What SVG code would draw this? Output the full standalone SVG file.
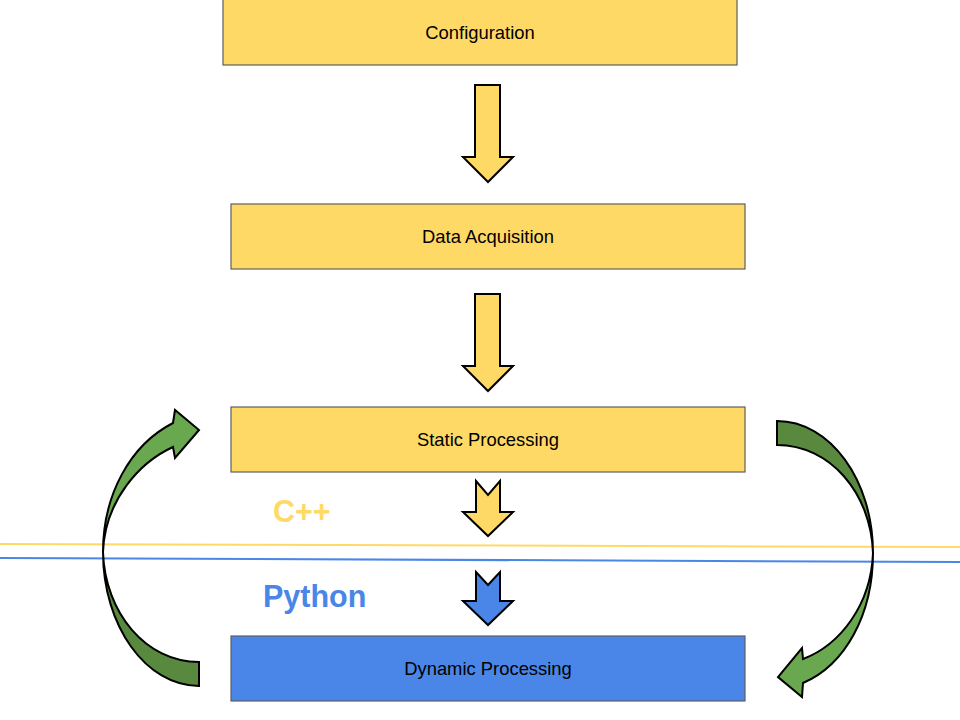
<svg xmlns="http://www.w3.org/2000/svg" width="960" height="720" viewBox="0 0 960 720">
<style>
.box{stroke:#5f5f5f;stroke-width:1.2}
.y{fill:#ffd966}
.b{fill:#4a86e8}
.lbl{font-family:"Liberation Sans",Arial,sans-serif;font-size:18.4px;fill:#000;text-anchor:middle}
.big{font-family:"Liberation Sans",Arial,sans-serif;font-size:30.5px;font-weight:bold}
.arr{stroke:#000;stroke-width:2;stroke-linejoin:miter}
.g1{fill:#6aa84f}
.g2{fill:#58893f}
</style>
<rect width="960" height="720" fill="#fff"/>
<g id="lines">
<line x1="0" y1="544" x2="960" y2="547" stroke="#ffd966" stroke-width="2"/>
<line x1="0" y1="558" x2="960" y2="562" stroke="#4a86e8" stroke-width="2"/>
</g>
<g id="configuration">
<rect class="box y" x="223" y="-1" width="514" height="66"/>
<text class="lbl" x="480" y="39">Configuration</text>
</g>
<g id="data-acquisition">
<rect class="box y" x="231" y="204" width="514" height="65"/>
<text class="lbl" x="488" y="243">Data Acquisition</text>
</g>
<g id="static-processing">
<rect class="box y" x="231" y="407" width="514" height="65"/>
<text class="lbl" x="488" y="446">Static Processing</text>
</g>
<g id="dynamic-processing">
<rect class="box b" x="231" y="636" width="514" height="65"/>
<text class="lbl" x="488" y="675">Dynamic Processing</text>
</g>
<g id="label-cpp"><text class="big" x="273" y="522" fill="#ffd966">C++</text></g>
<g id="label-python"><text class="big" x="263" y="607" fill="#4a86e8">Python</text></g>
<g id="connectors">
<path class="arr y" d="M475,85 H500 V157 H513 L488,182 L463,157 H475 Z"/>
<path class="arr y" d="M475,294 H500 V366 H513 L488,391 L463,366 H475 Z"/>
<path class="arr y" d="M476,481 L488,495 L500,481 V512 H513 L488,536 L463,512 H476 Z"/>
<path class="arr b" d="M476,572 L488,585 L500,572 V601 H513 L488,625 L463,601 H476 Z"/>
<path class="arr g2" d="M199,686 C146,686 103,626 103,552 C105,613 146,662 199,662 Z"/>
<path class="arr g1" d="M103,552 C103,495 130,445 173,423 L175,410 L199,430 L175,458 L173,447 C140,462 105,500 103,552 Z"/>
<path class="arr g2" d="M777,421 C830,421 873,480 873,553 C871,493 830,445 777,445 Z"/>
<path class="arr g1" d="M873,553 C873,615 845,665 803,683 L802,697 L778,677 L802,648 L803,659 C840,645 871,605 873,553 Z"/>
</g>
</svg>
